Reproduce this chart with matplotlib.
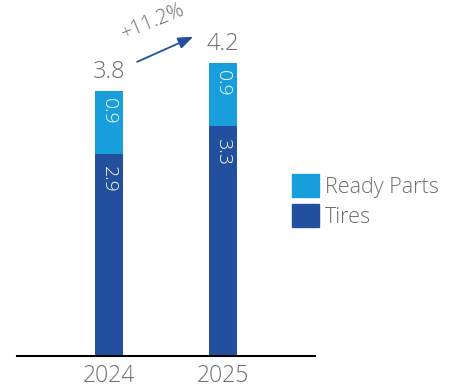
import matplotlib
matplotlib.use("Agg")
import matplotlib.pyplot as plt
from matplotlib.patches import Patch

years = ["2024", "2025"]
tires = [2.9, 3.3]
ready_parts = [0.9, 0.9]
totals = [3.8, 4.2]
growth_label = "+11.2%"

DARK = "#23509E"
LIGHT = "#189FDB"
GREY = "#6E6E6E"
FONT = "Open Sans"
WEIGHT = 300

W, H = 454, 387
fig = plt.figure(figsize=(W / 100, H / 100), dpi=100)
ax = fig.add_axes([17 / W, 31 / H, 298 / W, 348.5 / H])

x = list(range(len(years)))
width = 0.245
ax.bar(x, tires, width, color=DARK, zorder=2)
ax.bar(x, ready_parts, width, bottom=tires, color=LIGHT, zorder=2)

ax.set_xlim(-0.8, 1.8)
ax.set_ylim(0, 5)

for xi, t, r, tot in zip(x, tires, ready_parts, totals):
    ax.annotate(f"{t:.1f}", (xi, t), xytext=(0, -9), textcoords="offset points",
                rotation=270, ha="center", va="top", color="white",
                fontsize=14, family=FONT, fontweight=WEIGHT)
    ax.annotate(f"{r:.1f}", (xi, t + r), xytext=(0, -5), textcoords="offset points",
                rotation=270, ha="center", va="top", color="white",
                fontsize=14, family=FONT, fontweight=WEIGHT)
    ax.annotate(f"{tot:.1f}", (xi, tot), xytext=(0, 5), textcoords="offset points",
                ha="center", va="bottom", color=GREY,
                fontsize=17, family=FONT, fontweight=WEIGHT)

# growth arrow between the two totals
ax.annotate("", xy=(0.737, 4.58), xytext=(0.248, 4.22),
            arrowprops=dict(arrowstyle="-|>,head_length=0.9,head_width=0.35",
                            color=DARK, lw=1.3, shrinkA=0, shrinkB=0))
ax.text(0.39, 4.80, growth_label, rotation=22, ha="center", va="center",
        color=GREY, fontsize=14.5, family=FONT, fontweight=WEIGHT)

for s in ["top", "right", "left"]:
    ax.spines[s].set_visible(False)
ax.spines["bottom"].set_color("black")
ax.spines["bottom"].set_linewidth(1.5)
ax.set_yticks([])
ax.set_xticks(x)
ax.set_xticklabels(years, fontsize=16.5, family=FONT, fontweight=WEIGHT, color=GREY)
ax.tick_params(axis="x", length=0, pad=6)

handles = [Patch(color=LIGHT, label="Ready Parts"), Patch(color=DARK, label="Tires")]
fig.legend(handles=handles, loc="upper left", bbox_to_anchor=(292 / W, 1 - 174 / H),
           frameon=False, borderpad=0, borderaxespad=0,
           handlelength=1.25, handleheight=1.25, handletextpad=0.3, labelspacing=0.3,
           prop=dict(family=FONT, weight=WEIGHT, size=15.5), labelcolor=GREY)

fig.savefig("out.png", dpi=100)
